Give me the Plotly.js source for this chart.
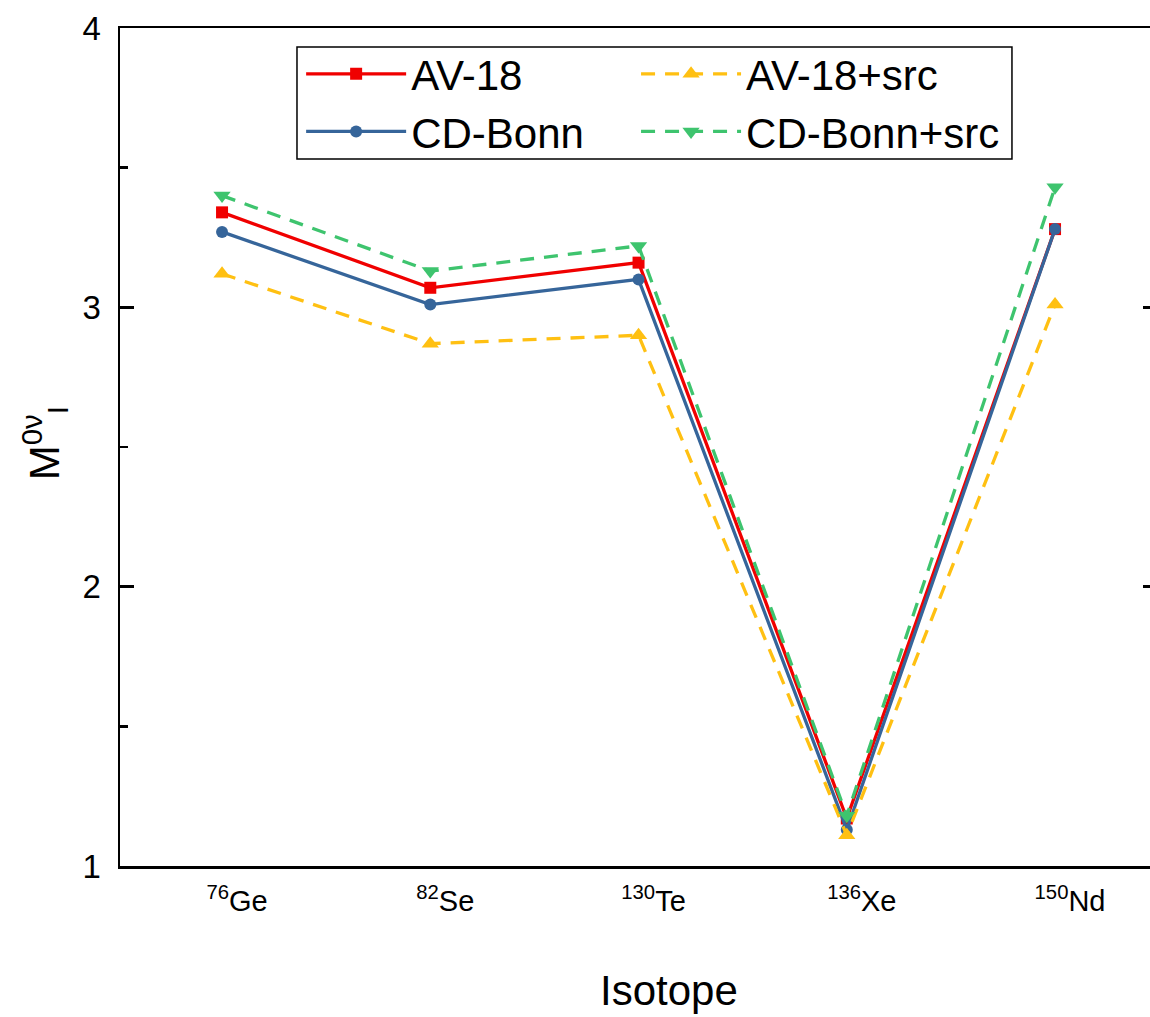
<!DOCTYPE html>
<html>
<head>
<meta charset="utf-8">
<script src="https://cdn.plot.ly/plotly-3.0.1.min.js"></script>
<style>html,body{margin:0;padding:0;background:#fff;overflow:hidden;}#chart{width:1155px;height:1017px;}</style>
</head>
<body>
<div id="chart"></div>
<script>
const isotopes = ["<sup>76</sup>Ge", "<sup>82</sup>Se", "<sup>130</sup>Te", "<sup>136</sup>Xe", "<sup>150</sup>Nd"];
const xIndex = [0, 1, 2, 3, 4];
const av18 = [3.34, 3.07, 3.16, 1.17, 3.28];
const cdBonn = [3.27, 3.01, 3.10, 1.13, 3.28];
const av18Src = [3.12, 2.87, 2.90, 1.11, 3.01];
const cdBonnSrc = [3.40, 3.13, 3.22, 1.18, 3.43];

const sans = "Liberation Sans, Arial, sans-serif";

const traces = [
  {x: xIndex, y: av18, name: "AV-18", mode: "lines+markers", legend: "legend",
   line: {color: "#f00000", width: 3.3},
   marker: {symbol: "square", size: 12, color: "#f00000"}},
  {x: xIndex, y: cdBonn, name: "CD-Bonn", mode: "lines+markers", legend: "legend",
   line: {color: "#36659a", width: 3.3},
   marker: {symbol: "circle", size: 12, color: "#36659a"}},
  {x: xIndex, y: av18Src, name: "AV-18+src", mode: "lines+markers", legend: "legend2",
   line: {color: "#ffc012", width: 3.3, dash: "14px,10px"},
   marker: {symbol: "triangle-up", size: 15, color: "#ffc012"}},
  {x: xIndex, y: cdBonnSrc, name: "CD-Bonn+src", mode: "lines+markers", legend: "legend2", yaxis: "y2",
   line: {color: "#3ec46e", width: 3.3, dash: "14px,10px"},
   marker: {symbol: "triangle-down", size: 15, color: "#3ec46e"}}
];

const legendCommon = {
  orientation: "v", y: 0.9857, xanchor: "left", yanchor: "top",
  itemwidth: 100, borderwidth: 0, bgcolor: "rgba(0,0,0,0)",
  font: {family: sans, size: 42, color: "#000"}, traceorder: "normal"
};

const layout = {
  width: 1155, height: 1017,
  margin: {l: 120, r: 0, t: 28, b: 151},
  paper_bgcolor: "#fff", plot_bgcolor: "#fff",
  showlegend: true,
  legend: Object.assign({}, legendCommon, {x: 0.175}),
  legend2: Object.assign({}, legendCommon, {x: 0.4986}),
  shapes: [
    {type: "rect", xref: "paper", yref: "paper", x0: 0.1710, x1: 0.8618, y0: 0.8437, y1: 0.9773,
     line: {color: "#000", width: 1.5}, fillcolor: "rgba(0,0,0,0)", layer: "above"}
  ],
  xaxis: {
    range: [-0.49, 4.48], tickmode: "array", tickvals: xIndex, ticktext: isotopes,
    showline: true, mirror: true, linecolor: "#000", linewidth: 2.5, ticks: "", showgrid: false, zeroline: false,
    tickfont: {family: sans, size: 29, color: "#000"}, ticklabelstandoff: 8, ticklabelshift: 15
  },
  yaxis: {
    range: [1, 4], dtick: 1, tick0: 1, showline: true, linecolor: "#000", linewidth: 2.5,
    ticks: "inside", ticklen: 14, tickwidth: 2.5, tickcolor: "#000",
    minor: {ticks: "inside", ticklen: 8, tickwidth: 2.5, dtick: 0.5, tickcolor: "#000", showgrid: false},
    showgrid: false, zeroline: false,
    tickfont: {family: sans, size: 33, color: "#000"}, ticklabelstandoff: 10
  },
  yaxis2: {
    overlaying: "y", side: "right", anchor: "x", range: [1, 4], dtick: 1, tick0: 1,
    ticks: "inside", ticklen: 12, tickwidth: 2.5, tickcolor: "#000",
    showline: false, showticklabels: false, showgrid: false, zeroline: false
  },
  annotations: [
    {text: "Isotope", xref: "paper", yref: "paper", x: 0.53, y: -0.148,
     xanchor: "center", yanchor: "middle", showarrow: false,
     font: {family: sans, size: 42, color: "#000"}},
    {text: "M<sup>0ν</sup><sub>I</sub>", xref: "paper", yref: "paper", x: -0.073, y: 0.505,
     xanchor: "center", yanchor: "middle", showarrow: false, textangle: -90,
     font: {family: sans, size: 42, color: "#000"}}
  ]
};

Plotly.newPlot("chart", traces, layout, {displayModeBar: false, staticPlot: true});
</script>
</body>
</html>
